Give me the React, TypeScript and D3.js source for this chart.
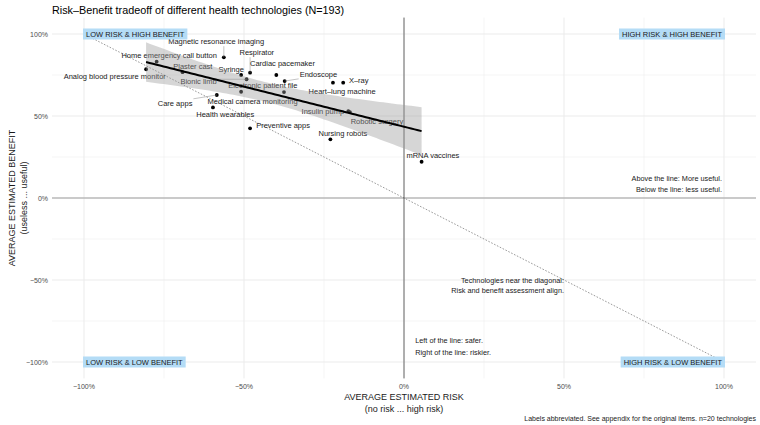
import React, { useEffect, useRef } from "react";
import * as d3 from "d3";

const width = 760;
const height = 425;
const panel = { left: 52, right: 756, top: 17.6, bottom: 378.4 };

// survey results: mean perceived risk and benefit per technology (-1 .. 1)
const technologies = [
  "Magnetic resonance imaging",
  "Home emergency call button",
  "Analog blood pressure monitor",
  "Plaster cast",
  "Syringe",
  "Respirator",
  "Cardiac pacemaker",
  "Bionic limb",
  "Electronic patient file",
  "Medical camera monitoring",
  "Endoscope",
  "X–ray",
  "Heart–lung machine",
  "Insulin pump",
  "Robotic surgery",
  "Care apps",
  "Health wearables",
  "Preventive apps",
  "Nursing robots",
  "mRNA vaccines",
];
const risk = [
  -0.563, -0.773, -0.806, -0.692, -0.509, -0.481, -0.399, -0.492, -0.375, -0.509,
  -0.373, -0.19, -0.222, -0.174, -0.169, -0.585, -0.597, -0.481, -0.23, 0.055,
];
const benefit = [
  0.858, 0.831, 0.785, 0.767, 0.75, 0.764, 0.75, 0.724, 0.646, 0.648,
  0.713, 0.703, 0.703, 0.53, 0.524, 0.628, 0.552, 0.425, 0.358, 0.221,
];

// where the repelled labels ended up, in px relative to their point
const labelNudge = [
  [-7.7, -15.6], [12.5, -6.7], [-31.3, 7.4], [10.3, -5.6], [-10, -5.7],
  [6.7, -20], [6.2, -11.7], [-48, 1.7], [-21.2, -6.3], [11.5, 9.3],
  [33.8, -6.7], [15.5, -2.4], [9.2, 8.3], [-25.5, 0.7], [27, 9.7],
  [-41.7, 8.3], [12.3, 6.5], [33, -3.3], [12.5, -6], [11.3, -6],
];

const majorTicks = [-1, -0.5, 0, 0.5, 1];
const minorTicks = [-0.75, -0.25, 0.25, 0.75];
const tickLabels = ["−100%", "−50%", "0%", "50%", "100%"];

const quadrants = [
  { text: "LOW RISK & HIGH BENEFIT", x: -1, y: 1 },
  { text: "HIGH RISK & HIGH BENEFIT", x: 1, y: 1 },
  { text: "LOW RISK & LOW BENEFIT", x: -1, y: -1 },
  { text: "HIGH RISK & LOW BENEFIT", x: 1, y: -1 },
];

const font = "'Liberation Sans', Arial, Helvetica, sans-serif";
const T_CRIT = 2.101; // t(0.975, df = 18)

const App = () => {
  const ref = useRef<SVGSVGElement>(null);

  useEffect(() => {
    const svg = d3.select(ref.current);
    svg.selectAll("*").remove();

    const x = d3.scaleLinear().domain([-1.1, 1.1]).range([panel.left, panel.right]);
    const y = d3.scaleLinear().domain([-1.1, 1.1]).range([panel.bottom, panel.top]);

    const data = technologies.map((name, i) => ({
      name,
      risk: risk[i],
      benefit: benefit[i],
      nudge: labelNudge[i],
    }));

    // grid
    const grid = svg.append("g");
    grid.selectAll(".minx").data(minorTicks).join("line")
      .attr("x1", (d) => x(d)).attr("x2", (d) => x(d))
      .attr("y1", panel.top).attr("y2", panel.bottom)
      .attr("stroke", "#ebebeb").attr("stroke-width", 0.5);
    grid.selectAll(".miny").data(minorTicks).join("line")
      .attr("y1", (d) => y(d)).attr("y2", (d) => y(d))
      .attr("x1", panel.left).attr("x2", panel.right)
      .attr("stroke", "#ebebeb").attr("stroke-width", 0.5);
    grid.selectAll(".majx").data(majorTicks).join("line")
      .attr("x1", (d) => x(d)).attr("x2", (d) => x(d))
      .attr("y1", panel.top).attr("y2", panel.bottom)
      .attr("stroke", "#ebebeb").attr("stroke-width", 1);
    grid.selectAll(".majy").data(majorTicks).join("line")
      .attr("y1", (d) => y(d)).attr("y2", (d) => y(d))
      .attr("x1", panel.left).attr("x2", panel.right)
      .attr("stroke", "#ebebeb").attr("stroke-width", 1);

    // tick labels
    svg.append("g").selectAll("text").data(majorTicks).join("text")
      .attr("x", (d) => x(d)).attr("y", panel.bottom + 10.5)
      .attr("text-anchor", "middle")
      .attr("font-size", 7).attr("fill", "#4d4d4d")
      .text((d, i) => tickLabels[i]);
    svg.append("g").selectAll("text").data(majorTicks).join("text")
      .attr("x", panel.left - 4).attr("y", (d) => y(d) + 2.5)
      .attr("text-anchor", "end")
      .attr("font-size", 7).attr("fill", "#4d4d4d")
      .text((d, i) => tickLabels[i]);

    // zero lines
    svg.append("line")
      .attr("x1", panel.left).attr("x2", panel.right)
      .attr("y1", y(0)).attr("y2", y(0))
      .attr("stroke", "#a0a0a0").attr("stroke-width", 1.2);
    svg.append("line")
      .attr("x1", x(0)).attr("x2", x(0))
      .attr("y1", panel.top).attr("y2", panel.bottom)
      .attr("stroke", "#444").attr("stroke-width", 0.8);

    // diagonal: risk and benefit equal in size
    svg.append("line")
      .attr("x1", x(-1)).attr("y1", y(1))
      .attr("x2", x(1)).attr("y2", y(-1))
      .attr("stroke", "#555").attr("stroke-width", 0.6)
      .attr("stroke-dasharray", "1.6,1.6");

    // points
    svg.append("g").selectAll("circle").data(data).join("circle")
      .attr("cx", (d) => x(d.risk)).attr("cy", (d) => y(d.benefit))
      .attr("r", 1.9).attr("fill", "#000");

    // labels with leader segments
    const labels = svg.append("g").attr("font-size", 7.5).attr("fill", "#1a1a1a");
    data.forEach((d) => {
      const px = x(d.risk);
      const py = y(d.benefit);
      const cx = px + d.nudge[0];
      const cy = py + d.nudge[1];
      const t = labels.append("text")
        .attr("x", cx).attr("y", cy + 2.7)
        .attr("text-anchor", "middle")
        .text(d.name);
      const w = (t.node() as SVGTextElement).getComputedTextLength();
      const hw = w / 2 + 1;
      const hh = 4.5;
      const qx = Math.max(cx - hw, Math.min(px, cx + hw));
      const qy = Math.max(cy - hh, Math.min(py, cy + hh));
      const gap = Math.hypot(px - qx, py - qy);
      if (gap > 9) {
        labels.insert("line", "text")
          .attr("x1", px).attr("y1", py).attr("x2", qx).attr("y2", qy)
          .attr("stroke", "#888").attr("stroke-width", 0.5);
      }
    });

    // linear fit with 95% band
    const n = data.length;
    const mx = d3.mean(risk) as number;
    const my = d3.mean(benefit) as number;
    const sxx = d3.sum(risk, (v) => (v - mx) ** 2);
    const sxy = d3.sum(risk, (v, i) => (v - mx) * (benefit[i] - my));
    const slope = sxy / sxx;
    const icpt = my - slope * mx;
    const sse = d3.sum(risk, (v, i) => (benefit[i] - (icpt + slope * v)) ** 2);
    const se = Math.sqrt(sse / (n - 2));
    const [x0, x1] = d3.extent(risk) as [number, number];
    const fit = d3.range(80).map((k) => {
      const xv = x0 + ((x1 - x0) * k) / 79;
      const yv = icpt + slope * xv;
      const half = T_CRIT * se * Math.sqrt(1 / n + (xv - mx) ** 2 / sxx);
      return { xv, yv, lo: yv - half, hi: yv + half };
    });
    svg.append("path").datum(fit)
      .attr("d", d3.area<any>().x((d) => x(d.xv)).y0((d) => y(d.lo)).y1((d) => y(d.hi)))
      .attr("fill", "#999").attr("fill-opacity", 0.4);
    svg.append("path").datum(fit)
      .attr("d", d3.line<any>().x((d) => x(d.xv)).y((d) => y(d.yv)))
      .attr("fill", "none").attr("stroke", "#000").attr("stroke-width", 2);

    // quadrant tags
    quadrants.forEach((q) => {
      const g = svg.append("g");
      const left = q.x < 0;
      const t = g.append("text")
        .attr("x", left ? x(q.x) + 2 : x(q.x) - 2)
        .attr("y", y(q.y) + 2.7)
        .attr("text-anchor", left ? "start" : "end")
        .attr("font-size", 7.5).attr("fill", "#1a1a1a")
        .text(q.text);
      const w = (t.node() as SVGTextElement).getComputedTextLength();
      g.insert("rect", "text")
        .attr("x", left ? x(q.x) - 1 : x(q.x) - w - 5)
        .attr("y", y(q.y) - 5.5)
        .attr("width", w + 6).attr("height", 11)
        .attr("fill", "#b4dcf6");
    });

    // notes
    const notes = svg.append("g").attr("font-size", 7.3).attr("fill", "#1a1a1a");
    notes.append("text").attr("x", x(1) - 2).attr("y", y(0.12) + 2.5)
      .attr("text-anchor", "end").text("Above the line: More useful.");
    notes.append("text").attr("x", x(1) - 2).attr("y", y(0.05) + 2.5)
      .attr("text-anchor", "end").text("Below the line: less useful.");
    notes.append("text").attr("x", x(0.5)).attr("y", y(-0.5) + 2.5)
      .attr("text-anchor", "end").text("Technologies near the diagonal:");
    notes.append("text").attr("x", x(0.5)).attr("y", y(-0.566) + 2.5)
      .attr("text-anchor", "end").text("Risk and benefit assessment align.");
    notes.append("text").attr("x", x(0.035)).attr("y", y(-0.87) + 2.5)
      .attr("text-anchor", "start").text("Left of the line: safer.");
    notes.append("text").attr("x", x(0.035)).attr("y", y(-0.94) + 2.5)
      .attr("text-anchor", "start").text("Right of the line: riskier.");

    // titles
    svg.append("text").attr("x", panel.left).attr("y", 13.5)
      .attr("font-size", 10.8).attr("fill", "#000")
      .text("Risk–Benefit tradeoff of different health technologies (N=193)");
    const xt = svg.append("g").attr("text-anchor", "middle").attr("font-size", 9).attr("fill", "#1a1a1a");
    xt.append("text").attr("x", x(0)).attr("y", 400).text("AVERAGE ESTIMATED RISK");
    xt.append("text").attr("x", x(0)).attr("y", 412).text("(no risk ... high risk)");
    const yt = svg.append("g").attr("text-anchor", "middle").attr("font-size", 9).attr("fill", "#1a1a1a")
      .attr("transform", `translate(0, ${y(0)}) rotate(-90)`);
    yt.append("text").attr("x", 0).attr("y", 15).text("AVERAGE ESTIMATED BENEFIT");
    yt.append("text").attr("x", 0).attr("y", 27).text("(useless ... useful)");
    svg.append("text").attr("x", 756).attr("y", 421)
      .attr("text-anchor", "end").attr("font-size", 7).attr("fill", "#1a1a1a")
      .text("Labels abbreviated. See appendix for the original items. n=20 technologies");
  }, []);

  return (
    <svg
      ref={ref}
      width={width}
      height={height}
      viewBox={`0 0 ${width} ${height}`}
      style={{ position: "absolute", left: 0, top: 0, background: "#fff", fontFamily: font }}
    />
  );
};

export default App;
